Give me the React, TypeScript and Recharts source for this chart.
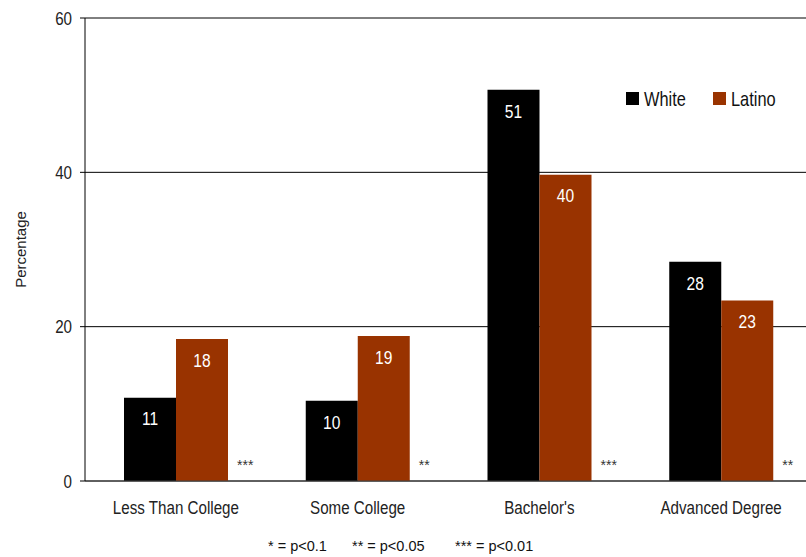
import React from "react";
import {
  BarChart,
  Bar,
  XAxis,
  YAxis,
  CartesianGrid,
  Legend,
  LabelList,
} from "recharts";

// Share of each education level, by group (percent)
const categories = ["Less Than College", "Some College", "Bachelor's", "Advanced Degree"];
const whiteValues = [10.8, 10.4, 50.7, 28.4];
const latinoValues = [18.4, 18.8, 39.7, 23.4];
const significance = ["***", "**", "***", "**"];
const yTicks = [0, 20, 40, 60];
const edgeTicks = [0, 1, 2, 3, 4];
const seriesOrder = ["White", "Latino"];
const footnotes = ["* = p<0.1", "** = p<0.05", "*** = p<0.01"];

const data = categories.map((name, i) => ({
  name,
  white: whiteValues[i],
  latino: latinoValues[i],
  sig: significance[i],
}));

const SANS = "'Liberation Sans', Arial, sans-serif";
const NARROW_SCALE = 0.82; // Liberation Sans squeezed to an Arial Narrow width
const WHITE_FILL = "#000000";
const LATINO_FILL = "#993300";
const FOOTNOTE_LEFT = [268, 352, 455];

// Text drawn in a condensed face, anchored at (x, y)
const Narrow = ({ x, y, anchor = "middle", size, fill = "#222", dy = 0, children }: any) => (
  <g transform={`translate(${x},${y})`}>
    <text
      transform={`scale(${NARROW_SCALE},1)`}
      textAnchor={anchor}
      dy={dy}
      fontSize={size}
      fontFamily={SANS}
      fill={fill}
    >
      {children}
    </text>
  </g>
);

const CategoryTick = (props: any) => {
  const { x, y, payload } = props;
  return (
    <Narrow x={x} y={y} size={18.5} dy={11.5}>
      {payload.value}
    </Narrow>
  );
};

const ValueTick = (props: any) => {
  const { x, y, payload } = props;
  return (
    <Narrow x={x} y={y} anchor="end" size={18.5} dy={6.6}>
      {payload.value}
    </Narrow>
  );
};

const renderValue = (props: any) => {
  const { x, y, width, value } = props;
  return (
    <Narrow x={x + width / 2} y={y + 21} size={19} fill="#ffffff" dy={6.8}>
      {Math.round(value)}
    </Narrow>
  );
};

const renderSig = (props: any) => {
  const { x, y, width, height, value } = props;
  return (
    <text
      x={x + width + 9}
      y={y + height - 11}
      textAnchor="start"
      fill="#333333"
      fontSize={14}
      fontFamily={SANS}
    >
      {value}
    </text>
  );
};

const renderLegend = (props: any) => {
  const { payload } = props;
  const items = [...(payload || [])].sort(
    (a: any, b: any) => seriesOrder.indexOf(a.value) - seriesOrder.indexOf(b.value)
  );
  return (
    <svg width={176} height={28} style={{ display: "block", overflow: "visible" }}>
      {items.map((entry: any, i: number) => {
        const ox = i * 87;
        return (
          <g key={entry.value}>
            <rect x={ox} y={7} width={13} height={13} fill={entry.color} />
            <Narrow x={ox + 18} y={14} anchor="start" size={20} fill="#111" dy={7.2}>
              {entry.value}
            </Narrow>
          </g>
        );
      })}
    </svg>
  );
};

const renderYLabel = (props: any) => {
  const { viewBox } = props;
  const cy = viewBox.y + viewBox.height / 2;
  return (
    <text
      x={20}
      y={cy}
      transform={`rotate(-90, 20, ${cy})`}
      textAnchor="middle"
      dominantBaseline="central"
      fontSize={15}
      fontFamily={SANS}
      fill="#222"
    >
      Percentage
    </text>
  );
};

export default function App() {
  return (
    <div
      style={{
        position: "absolute",
        left: 0,
        top: 0,
        width: 806,
        height: 557,
        overflow: "hidden",
        background: "#ffffff",
      }}
    >
      <BarChart
        width={812}
        height={557}
        data={data}
        margin={{ top: 18, right: 0, bottom: 36, left: 0 }}
        barGap={0}
      >
        <CartesianGrid vertical={false} stroke="#000000" />
        <XAxis
          xAxisId="edge"
          type="number"
          domain={[0, 4]}
          ticks={edgeTicks}
          allowDataOverflow
          height={0}
          axisLine={false}
          tickSize={6}
          tickLine={{ stroke: "#404040" }}
          tickFormatter={() => ""}
        />
        <XAxis
          xAxisId="cat"
          dataKey="name"
          height={40}
          axisLine={{ stroke: "#404040" }}
          tickLine={false}
          tickSize={0}
          tickMargin={21}
          tick={<CategoryTick />}
          interval={0}
        />
        <YAxis
          domain={[0, 60]}
          ticks={yTicks}
          width={85}
          tickSize={5}
          tickMargin={8}
          axisLine={{ stroke: "#000" }}
          tickLine={{ stroke: "#000" }}
          tick={<ValueTick />}
          label={{ content: renderYLabel }}
        />
        <Legend
          layout="horizontal"
          verticalAlign="middle"
          align="center"
          content={renderLegend}
          wrapperStyle={{ top: 85, left: 626, width: "auto" }}
        />
        <Bar xAxisId="cat" dataKey="white" name="White" fill={WHITE_FILL} barSize={52} isAnimationActive={false}>
          <LabelList dataKey="white" content={renderValue} />
        </Bar>
        <Bar xAxisId="cat" dataKey="latino" name="Latino" fill={LATINO_FILL} barSize={52} isAnimationActive={false}>
          <LabelList dataKey="latino" content={renderValue} />
          <LabelList dataKey="sig" content={renderSig} />
        </Bar>
      </BarChart>
      {footnotes.map((f, i) => (
        <span
          key={f}
          style={{
            position: "absolute",
            top: 538,
            left: FOOTNOTE_LEFT[i],
            fontFamily: SANS,
            fontSize: 14.5,
            lineHeight: "17px",
            color: "#111",
            whiteSpace: "nowrap",
          }}
        >
          {f}
        </span>
      ))}
    </div>
  );
}
